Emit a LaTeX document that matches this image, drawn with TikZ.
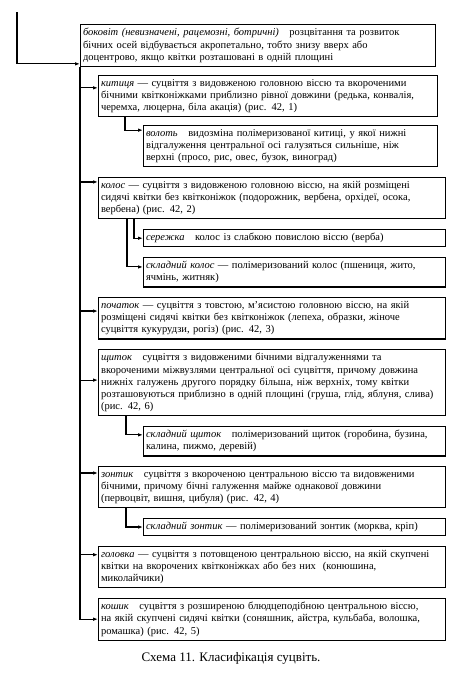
\documentclass[tikz,border=0pt]{standalone}
\usepackage{fontspec}
\setmainfont{Liberation Serif}
\usetikzlibrary{positioning,arrows.meta}
\newcommand{\boxfont}{\fontsize{10.5}{12.2}\selectfont}

\begin{document}
\begin{tikzpicture}[
    node distance=9.5pt,
    box/.style={draw, line width=1.1pt, inner xsep=2.5pt, inner ysep=3.8pt, align=left, anchor=north west, font=\boxfont},
    topbox/.style={box, text width=350pt},
    mainbox/.style={box, text width=342pt},
    subbox/.style={box, text width=297pt},
    arr/.style={line width=1.1pt, -{Latex[length=5pt,width=3.6pt]}}
]
\fill[white] (0,0) rectangle (449pt,-673pt);
\node[topbox] (bokotsvit) at (80pt,-24pt) {
\textit{боковіт (невизначені, рацемозні, ботричні)}\quad розцвітання та розвиток\\
бічних осей відбувається акропетально, тобто знизу вверх або\\
доцентрово, якщо квітки розташовані в одній площині
};
\node[box, text width=334pt, below right=8pt and 18pt of bokotsvit.south west] (kytytsia) {
\textit{китиця} — суцвіття з видовженою головною віссю та вкороченими\\
бічними квітконіжками приблизно рівної довжини (редька, конвалія,\\
черемха, люцерна, біла акація) (рис. 42, 1)
};
\node[box, text width=289pt, below right=8pt and 45pt of kytytsia.south west] (volot) {
\textit{волоть}\quad видозміна полімеризованої китиці, у якої нижні\\
відгалуження центральної осі галузяться сильніше, ніж\\
верхні (просо, рис, овес, бузок, виноград)
};
\node[mainbox, below right=9.5pt and -45pt of volot.south west] (kolos) {
\textit{колос} — суцвіття з видовженою головною віссю, на якій розміщені\\
сидячі квітки без квітконіжок (подорожник, вербена, орхідеї, осока,\\
вербена) (рис. 42, 2)
};
\node[subbox, below right=9.5pt and 45pt of kolos.south west] (serezhka) {
\textit{сережка}\quad колос із слабкою повислою віссю (верба)
};
\node[subbox, below=of serezhka.south west, anchor=north west] (sklkolos) {
\textit{складний колос} — полімеризований колос (пшениця, жито,\\
ячмінь, житняк)
};
\node[mainbox, below right=9.5pt and -45pt of sklkolos.south west] (pochatok) {
\textit{початок} — суцвіття з товстою, м'ясистою головною віссю, на якій\\
розміщені сидячі квітки без квітконіжок (лепеха, образки, жіноче\\
суцвіття кукурудзи, рогіз) (рис. 42, 3)
};
\node[mainbox, below=of pochatok.south west, anchor=north west] (shchytok) {
\textit{щиток}\quad суцвіття з видовженими бічними відгалуженнями та\\
вкороченими міжвузлями центральної осі суцвіття, причому довжина\\
нижніх галужень другого порядку більша, ніж верхніх, тому квітки\\
розташовуються приблизно в одній площині (груша, глід, яблуня, слива)\\
(рис. 42, 6)
};
\node[subbox, below right=9.5pt and 45pt of shchytok.south west] (sklshchytok) {
\textit{складний щиток}\quad полімеризований щиток (горобина, бузина,\\
калина, пижмо, деревій)
};
\node[mainbox, below right=9.5pt and -45pt of sklshchytok.south west] (zontyk) {
\textit{зонтик}\quad суцвіття з вкороченою центральною віссю та видовженими\\
бічними, причому бічні галуження майже однакової довжини\\
(первоцвіт, вишня, цибуля) (рис. 42, 4)
};
\node[subbox, below right=9.5pt and 45pt of zontyk.south west] (sklzontyk) {
\textit{складний зонтик} — полімеризований зонтик (морква, кріп)
};
\node[mainbox, below right=9.5pt and -45pt of sklzontyk.south west] (holovka) {
\textit{головка} — суцвіття з потовщеною центральною віссю, на якій скупчені\\
квітки на вкорочених квітконіжках або без них\ \ (конюшина,\\
миколайчики)
};
\node[mainbox, below=of holovka.south west, anchor=north west] (koshyk) {
\textit{кошик}\quad суцвіття з розширеною блюдцеподібною центральною віссю,\\
на якій скупчені сидячі квітки (соняшник, айстра, кульбаба, волошка,\\
ромашка) (рис. 42, 5)
};
\node[font=\fontsize{13}{15}\selectfont] (caption) at (231pt,-658pt) {Схема 11. Класифікація суцвіть.};
\coordinate (start) at (17pt,-12pt);
\draw[arr] (start) |- ([yshift=3pt]bokotsvit.south west);
\draw[arr] (bokotsvit.south west) |- (koshyk.west);
\draw[arr] ([yshift=-13pt]kytytsia.north west -| bokotsvit.west) -- ([yshift=-13pt]kytytsia.north west);
\draw[arr] ([yshift=-5pt]kolos.north west -| bokotsvit.west) -- ([yshift=-5pt]kolos.north west);
\draw[arr] ([yshift=-14pt]pochatok.north west -| bokotsvit.west) -- ([yshift=-14pt]pochatok.north west);
\draw[arr] ([yshift=-31pt]shchytok.north west -| bokotsvit.west) -- ([yshift=-31pt]shchytok.north west);
\draw[arr] ([yshift=-7pt]zontyk.north west -| bokotsvit.west) -- ([yshift=-7pt]zontyk.north west);
\draw[arr] ([yshift=-9pt]holovka.north west -| bokotsvit.west) -- ([yshift=-9pt]holovka.north west);
\draw[arr] ([xshift=27pt]kytytsia.south west) |- ([yshift=-5pt]volot.north west);
\draw[arr] ([xshift=36pt]kolos.south west) |- (serezhka.west);
\draw[arr] ([xshift=29pt]kolos.south west) |- ([yshift=-10pt]sklkolos.north west);
\draw[arr] ([xshift=28pt]shchytok.south west) |- ([yshift=-9pt]sklshchytok.north west);
\draw[arr] ([xshift=28pt]zontyk.south west) |- (sklzontyk.west);
\end{tikzpicture}
\end{document}
